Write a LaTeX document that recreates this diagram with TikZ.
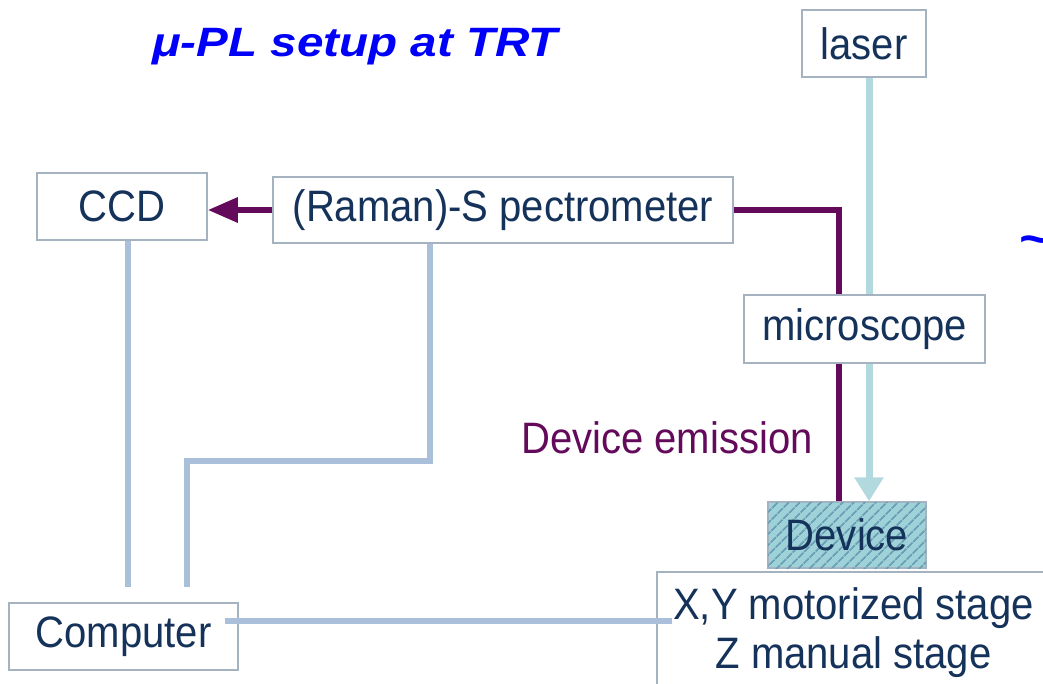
\documentclass[tikz,border=0pt]{standalone}
\usepackage{fontspec}
\setmainfont{Liberation Sans}[FakeStretch=0.91]
\newfontfamily\titlefont{Liberation Sans}[FakeStretch=1.16]
\usepackage{tikz}
\usetikzlibrary{arrows.meta,positioning,backgrounds,patterns.meta}
\definecolor{titleblue}{RGB}{0,0,250}
\definecolor{textnavy}{RGB}{20,50,90}
\definecolor{boxgray}{RGB}{165,178,192}
\definecolor{emitpurple}{RGB}{100,10,90}
\definecolor{beamteal}{RGB}{178,218,222}
\definecolor{ctrlblue}{RGB}{170,192,218}
\definecolor{devteal}{RGB}{158,210,216}
\definecolor{devstripe}{RGB}{105,160,182}

\begin{document}
\begin{tikzpicture}[x=0.5pt,y=-0.5pt,
  box/.style={draw=boxgray, line width=0.75pt, fill=white, text=textnavy,
    inner sep=0pt, minimum height=33.5pt, font=\fontsize{22}{24.5}\selectfont},
  devbox/.style={box, fill=devteal,
    postaction={pattern={Lines[angle=45,distance=4pt,line width=0.9pt]}, pattern color=devstripe}},
  emission/.style={draw=emitpurple, line width=3pt},
  beam/.style={draw=beamteal, line width=3.5pt},
  ctrl/.style={draw=ctrlblue, line width=3pt}]
\useasboundingbox (0,0) rectangle (1043,684);
% Title
\node (title) [anchor=base, text=titleblue, font=\titlefont\bfseries\itshape\fontsize{20.5}{24}\selectfont]
  at (355,57) {μ-PL setup at TRT};
\node (tilde) [anchor=west, inner sep=0pt, text=titleblue, font=\titlefont\bfseries\fontsize{24}{28}\selectfont]
  at (1019,246) {\textasciitilde};
% Boxes
\node (laser) [box, minimum width=62pt] at (864,43.5) {laser};
\node (ccd) [box, minimum width=85pt] at (122,206.5) {CCD};
\node (spec) [box, minimum width=230pt, minimum height=33pt] at (503,210) {(Raman)-S pectrometer};
\node (micro) [box, minimum width=120.5pt, minimum height=34pt] at (864.5,329) {microscope};
\node (dev) [devbox, minimum width=79pt, minimum height=33pt] at (847,535) {Device};
\node (stage) [box, minimum width=196.5pt, minimum height=61pt, align=center] at (853.5,633)
  {X,Y motorized stage\\Z manual stage};
\node (comp) [box, minimum width=114.5pt] at (123.5,636.5) {Computer};
\node (emit) [text=emitpurple, font=\fontsize{22}{24.5}\selectfont] at (667,438) {Device emission};
% Light paths and cables
\begin{scope}[on background layer]
\draw[beam, -{Triangle[length=12pt,width=14pt]}] ([xshift=2.5pt]laser.south) -- ([xshift=2.5pt]laser.south |- dev.north);
\draw[emission] (spec.east) -| ([xshift=-4pt]dev.north);
\draw[emission, -{Triangle[length=15pt,width=12pt]}] (spec.west) -- (spec.west -| ccd.east);
\draw[ctrl] ([xshift=3pt]ccd.south) -- ([xshift=3pt,yshift=7.5pt]ccd.south |- comp.north);
\coordinate (kink) at (187,461);
\draw[ctrl] ([xshift=-36.5pt]spec.south) |- (kink) -- ([yshift=7.5pt]kink |- comp.north);
\end{scope}
\draw[ctrl] ([xshift=-7pt,yshift=7.75pt]comp.east) -- ([xshift=8pt,yshift=7.75pt]comp.east -| stage.west);
\end{tikzpicture}
\end{document}
